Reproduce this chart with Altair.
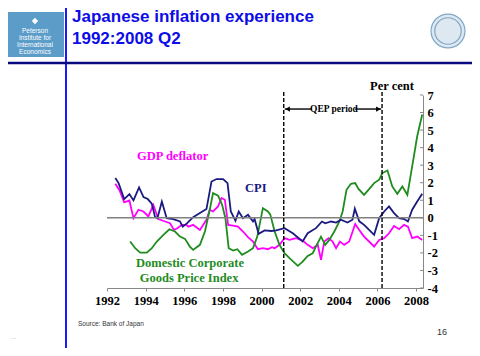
import altair as alt
import pandas as pd

# ---------------- data ----------------
cpi_years = [1992.43, 1992.60, 1992.89, 1993.16, 1993.37, 1993.66, 1993.89, 1994.11, 1994.32, 1994.49,
             1994.61, 1994.84, 1995.09, 1995.43, 1995.78, 1995.92, 1996.15, 1996.46, 1996.81, 1997.15,
             1997.41, 1997.67, 1998.01, 1998.24, 1998.41, 1998.65, 1998.82, 1999.04, 1999.30, 1999.56,
             1999.64, 1999.85, 2000.16, 2000.51, 2000.76, 2001.19, 2001.62, 2002.13, 2002.39, 2002.82,
             2003.13, 2003.30, 2003.60, 2003.86, 2004.11, 2004.45, 2004.71, 2004.83, 2005.06, 2005.31,
             2005.57, 2005.83, 2006.09, 2006.35, 2006.60, 2006.86, 2007.12, 2007.38, 2007.58, 2007.80,
             2008.06, 2008.32]
cpi_vals = [2.27, 1.98, 1.07, 1.35, 0.99, 1.73, 1.18, 1.07, 0.80, 0.04,
            -0.02, 0.93, -0.02, -0.07, -0.21, -0.50, -0.30, 0.04, 0.27, 0.50,
            2.07, 2.21, 2.21, 1.98, 0.36, -0.17, 0.36, -0.02, 0.17, -0.21,
            -0.07, -0.91, -0.72, -0.75, -0.72, -0.59, -0.88, -1.35, -0.88, -0.59,
            -0.21, -0.31, -0.21, -0.27, -0.11, -0.27, -0.11, 0.52, -0.20, -0.40,
            -0.69, -0.97, -0.02, 0.36, 0.65, 0.27, -0.02, -0.07, -0.21, 0.46,
            0.93, 1.37]

gdp_years = [1992.43, 1992.65, 1992.89, 1993.16, 1993.37, 1993.63, 1993.89, 1994.14, 1994.40, 1994.66,
             1995.01, 1995.26, 1995.47, 1995.64, 1995.87, 1996.12, 1996.21, 1996.46, 1996.81, 1997.15,
             1997.32, 1997.49, 1997.75, 1997.93, 1998.10, 1998.27, 1998.53, 1998.78, 1999.04, 1999.30,
             1999.56, 1999.81, 2000.07, 2000.33, 2000.54, 2000.68, 2000.93, 2001.19, 2001.45, 2001.79,
             2002.13, 2002.39, 2002.65, 2002.91, 2003.08, 2003.25, 2003.47, 2003.68, 2003.86, 2004.06,
             2004.28, 2004.54, 2004.85, 2005.06, 2005.31, 2005.57, 2005.83, 2006.09, 2006.35, 2006.60,
             2006.86, 2007.12, 2007.38, 2007.58, 2007.80, 2008.06, 2008.32]
gdp_vals = [1.94, 1.56, 0.88, 0.99, -0.02, 0.46, 0.36, 0.08, 0.74, -0.07,
            -0.21, -0.31, -0.69, -0.59, -0.40, -0.40, -0.50, -0.40, -0.69, -0.11,
            0.46, 0.36, 0.65, 1.13, 1.03, -0.40, -0.44, -0.50, -0.78, -1.10,
            -1.35, -1.79, -1.73, -1.79, -1.67, -1.73, -1.54, -1.16, -1.26, -1.16,
            -1.30, -1.54, -1.73, -1.54, -2.40, -1.35, -1.16, -1.35, -1.73, -1.35,
            -1.54, -1.35, -0.35, -0.69, -1.07, -1.35, -1.64, -1.26, -1.16, -0.88,
            -0.46, -0.65, -0.40, -0.50, -1.16, -1.07, -1.26]

cgpi_years = [1993.20, 1993.46, 1993.72, 1994.06, 1994.32, 1994.58, 1994.92, 1995.23, 1995.52, 1995.78,
              1996.04, 1996.29, 1996.46, 1996.81, 1997.07, 1997.32, 1997.49, 1997.75, 1997.96, 1998.13,
              1998.30, 1998.53, 1998.75, 1998.99, 1999.30, 1999.56, 1999.78, 2000.07, 2000.33, 2000.45,
              2000.68, 2000.93, 2001.19, 2001.45, 2001.88, 2002.13, 2002.39, 2002.65, 2002.86, 2003.08,
              2003.30, 2003.51, 2003.77, 2004.03, 2004.20, 2004.40, 2004.63, 2004.85, 2005.02, 2005.31,
              2005.57, 2005.83, 2006.09, 2006.26, 2006.52, 2006.77, 2007.03, 2007.29, 2007.55, 2007.80,
              2008.06, 2008.32]
cgpi_vals = [-1.35, -1.73, -1.98, -1.98, -1.73, -1.35, -0.97, -0.65, -0.78, -1.07,
             -1.20, -1.64, -1.83, -1.54, -0.78, 0.46, 1.41, 1.26, 0.74, -0.02,
             -1.73, -1.87, -1.79, -2.11, -1.92, -1.73, -1.07, 0.55, 0.36, 0.20,
             -0.78, -1.54, -2.02, -2.30, -2.74, -2.50, -2.17, -2.02, -1.54, -1.07,
             -1.54, -1.26, -0.78, -0.21, 0.36, 1.60, 1.94, 1.98, 1.65, 1.31,
             1.64, 1.98, 2.17, 2.55, 2.70, 1.79, 1.37, 1.79, 1.31, 2.93,
             4.65, 5.89]

series_names = ["GDP deflator", "Domestic Corporate Goods Price Index", "CPI"]
series_colors = ["#ff00ff", "#1f8c1f", "#1a1a80"]

x_ticks = [1992, 1994, 1996, 1998, 2000, 2002, 2004, 2006, 2008]
y_ticks = [-4, -3, -2, -1, 0, 1, 2, 3, 4, 5, 6, 7]
qep_bounds = [2001.15, 2006.24]

# ---------------- frames ----------------
rows = []
for name, ys, vs in [("GDP deflator", gdp_years, gdp_vals),
                     ("Domestic Corporate Goods Price Index", cgpi_years, cgpi_vals),
                     ("CPI", cpi_years, cpi_vals)]:
    for yr, v in zip(ys, vs):
        rows.append({"series": name, "year": yr, "value": v})
df = pd.DataFrame(rows)

W, H = 316, 193
XDOM = [1992, 2008.36]
YDOM = [-4, 7]
SERIF = "Liberation Serif"
SANS = "Liberation Sans"

xscale = alt.Scale(domain=XDOM, nice=False, zero=False)
yscale = alt.Scale(domain=YDOM, nice=False, zero=False)

XAXIS = alt.Axis(values=x_ticks, labelExpr="'' + datum.value", title=None, grid=False,
                 domainColor="#888888", domainWidth=1, tickColor="#888888", tickSize=3,
                 labelFont=SERIF, labelFontWeight="bold", labelFontSize=12.5,
                 labelColor="black", labelPadding=3, labelOverlap=False, labelFlush=False)
YAXIS = alt.Axis(orient="right", values=y_ticks, labelExpr="'' + datum.value", title=None,
                 grid=False, ticks=False, domainColor="#888888", domainWidth=1,
                 labelFont=SERIF, labelFontWeight="bold", labelFontSize=12.5,
                 labelColor="black", labelPadding=4, labelOverlap=False, labelFlush=False)


def X(field):
    return alt.X(field, scale=xscale, axis=XAXIS)


def Y(field):
    return alt.Y(field, scale=yscale, axis=YAXIS)


lines = alt.Chart(df).mark_line(strokeWidth=1.8).encode(
    x=X("year:Q"),
    y=Y("value:Q"),
    color=alt.Color("series:N", scale=alt.Scale(domain=series_names, range=series_colors), legend=None),
    detail="series:N",
)

zero = alt.Chart(pd.DataFrame({"y": [0], "x1": [XDOM[0]], "x2": [XDOM[1]]})).mark_rule(
    color="#808080", strokeWidth=1.6).encode(x=X("x1:Q"), x2="x2:Q", y=Y("y:Q"))

yticks = alt.Chart(pd.DataFrame({"v": y_ticks})).mark_rule(color="#888888", strokeWidth=1).encode(
    y=Y("v:Q"), x=alt.value(W - 3), x2=alt.value(W))

qep = alt.Chart(pd.DataFrame({"year": qep_bounds})).mark_rule(
    color="black", strokeWidth=1.4, strokeDash=[4, 2]).encode(
    x=X("year:Q"), y=alt.value(-3), y2=alt.value(H))

arrow_df = pd.DataFrame({"a": [2001.2, 2004.85], "b": [2002.6, 2006.2], "v": [6.2, 6.2]})
arrows = alt.Chart(arrow_df).mark_rule(color="black", strokeWidth=1.4).encode(
    x=X("a:Q"), x2="b:Q", y=Y("v:Q"))
heads = alt.Chart(pd.DataFrame({"year": [2001.35, 2006.05], "v": [6.2, 6.2],
                                "shape": ["triangle-left", "triangle-right"]})).mark_point(
    filled=True, color="black", size=28, opacity=1).encode(
    x=X("year:Q"), y=Y("v:Q"), shape=alt.Shape("shape:N", scale=None))


def label(text, yr, val, color, size=12.5, align="center"):
    return alt.Chart(pd.DataFrame({"year": [yr], "value": [val]})).mark_text(
        text=text, font=SERIF, fontWeight="bold", fontSize=size, color=color, align=align,
        baseline="middle").encode(x=X("year:Q"), y=Y("value:Q"))


labels = [
    label("GDP deflator", 1995.4, 3.5, "#ff00ff"),
    label("CPI", 1999.7, 1.7, "#1a1a80"),
    label("Domestic Corporate", 1996.3, -2.6, "#1f8c1f"),
    label("Goods Price Index", 1996.25, -3.42, "#1f8c1f"),
    label("QEP period", 2003.75, 6.2, "black", size=9.5),
]


def txt(s, x, y, size, color, weight="normal", font=SANS, align="left", baseline="alphabetic"):
    return alt.Chart(pd.DataFrame({"t": [s]})).mark_text(
        text=s, fontSize=size, color=color, fontWeight=weight, font=font, align=align,
        baseline=baseline).encode(x=alt.value(x), y=alt.value(y))


def hrule(x1, x2, y, color, w):
    return alt.Chart(pd.DataFrame({"a": [0]})).mark_rule(color=color, strokeWidth=w).encode(
        x=alt.value(x1), x2=alt.value(x2), y=alt.value(y))


def vrule(x, y1, y2, color, w):
    return alt.Chart(pd.DataFrame({"a": [0]})).mark_rule(color=color, strokeWidth=w).encode(
        x=alt.value(x), y=alt.value(y1), y2=alt.value(y2))


logo_box = alt.Chart(pd.DataFrame({"a": [0]})).mark_rect(color="#5b9cc9").encode(
    x=alt.value(-101), x2=alt.value(-43), y=alt.value(-83), y2=alt.value(-38))
logo_icon = alt.Chart(pd.DataFrame({"a": [0]})).mark_point(
    shape="diamond", filled=True, color="white", size=40, opacity=1).encode(
    x=alt.value(-72), y=alt.value(-74))
boe = alt.Chart(pd.DataFrame({"a": [0, 1], "s": [1150, 700]})).mark_point(
    shape="circle", filled=False, color="#7fa6c6", strokeWidth=1.2, opacity=1).encode(
    x=alt.value(341), y=alt.value(-64), size=alt.Size("s:Q", scale=None, legend=None))
boe_fill = alt.Chart(pd.DataFrame({"a": [0]})).mark_point(
    shape="circle", filled=True, color="#dde8f1", size=1100, opacity=1).encode(
    x=alt.value(341), y=alt.value(-64))

deco = [
    logo_box, logo_icon,
    txt("Peterson", -72, -64, 6.5, "white", align="center", baseline="middle"),
    txt("Institute for", -72, -57, 6.5, "white", align="center", baseline="middle"),
    txt("International", -72, -50.5, 6.5, "white", align="center", baseline="middle"),
    txt("Economics", -72, -43.5, 6.5, "white", align="center", baseline="middle"),
    vrule(-41, -92, 260, "#1a1aff", 2),
    hrule(-101, 365, -32, "#0a0a80", 2.5),
    txt("Japanese inflation experience", -35, -73, 17, "#0d0de6", weight="bold"),
    txt("1992:2008 Q2", -35, -51, 17, "#0d0de6", weight="bold"),
    boe_fill, boe,
    txt("Per cent", 285, -9, 12.5, "black", weight="bold", font=SERIF, align="center", baseline="middle"),
    txt("Source:  Bank of Japan", -29, 229, 6.5, "#333333", baseline="middle"),
    txt("16", 330, 237, 9, "#333333", baseline="middle"),
    txt("...", -96, 242, 6, "#999999", baseline="middle"),
]

chart = alt.layer(lines, zero, yticks, qep, arrows, heads, *labels, *deco).properties(
    width=W, height=H,
    background="white",
    autosize=alt.AutoSizeParams(type="none"),
    padding={"left": 99, "top": 87, "right": 49, "bottom": 60},
).configure_view(stroke=None, strokeWidth=0).configure_axis(labelOverlap=False)

chart.save("out.html", embed_options={"renderer": "svg", "actions": False})
